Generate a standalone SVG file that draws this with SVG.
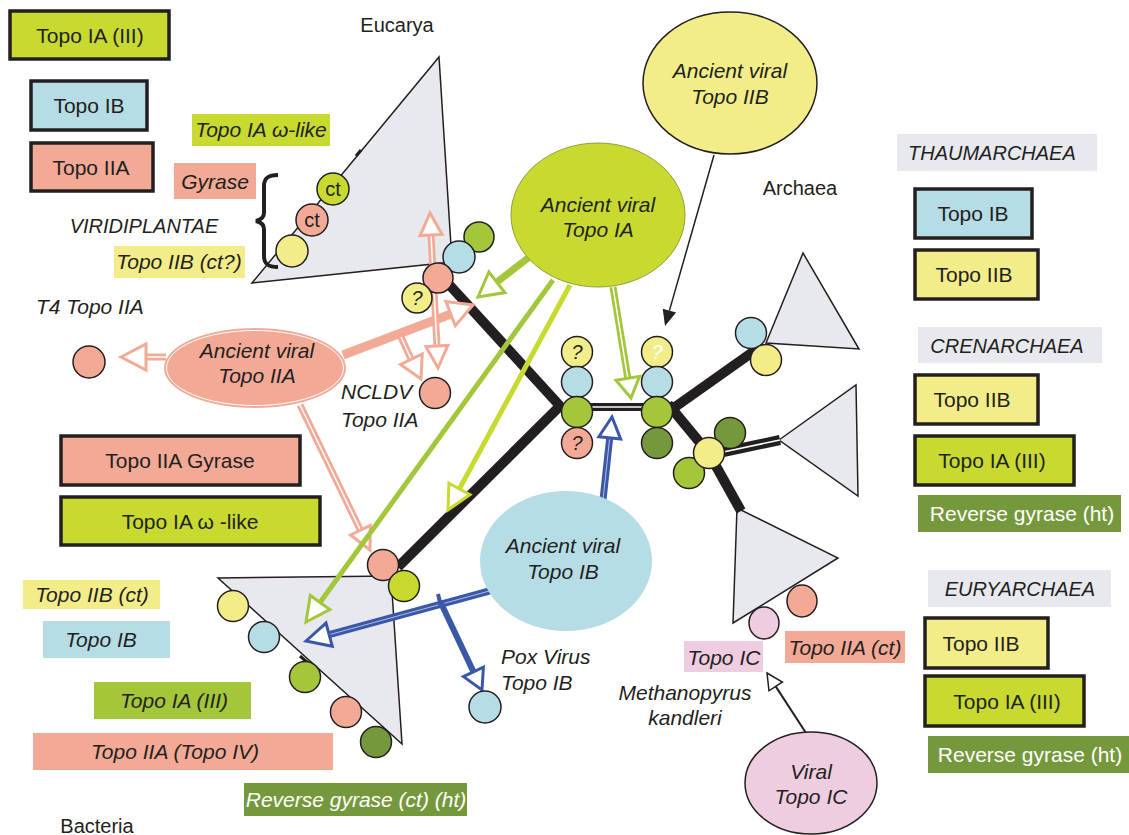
<svg xmlns="http://www.w3.org/2000/svg" width="1129" height="835" viewBox="0 0 1129 835">
<style>
.t{font-family:"Liberation Sans",Arial,sans-serif;font-size:21px;fill:#231f20}
.s20{font-size:20px}
.i{font-style:italic}
.c{text-anchor:middle}
.w{fill:#ffffff}
.box{stroke:#231f20;stroke-width:3.5}
.nd{stroke:#231f20;stroke-width:1.5}
.tri{fill:#e8e9ee;stroke:#231f20;stroke-width:1.5}
.lime{fill:#c8da2f}.grn{fill:#a3c63b}.dgr{fill:#76983c}.blu{fill:#b6dde6}.sal{fill:#f2aa96}.yel{fill:#f3ed89}.pnk{fill:#efcde0}.gry{fill:#e8e9ee}
.br{stroke:#231f20;stroke-width:10;fill:none;stroke-linecap:butt}
.dbl{stroke:#231f20;stroke-width:8;fill:none}
.wl{stroke:#ffffff;stroke-width:1.5;fill:none}
.wt{stroke:#ffffff;stroke-width:1;stroke-opacity:0.6;fill:none}
.hs{fill:#ffffff;stroke-width:3;stroke-linejoin:miter}
</style>

<!-- Triangles (clades) -->
<g id="eucarya-clade">
  <polygon class="tri" points="252,283 439,57 452,262"/>
  <line x1="356" y1="156" x2="361" y2="150" stroke="#231f20" stroke-width="3"/>
</g>
<g id="bacteria-clade">
  <polygon class="tri" points="218,578 391,576 402,744"/>
  <line x1="300" y1="656" x2="308" y2="663" stroke="#231f20" stroke-width="3"/>
</g>
<g id="thaumarchaea-clade"><polygon class="tri" points="766,343 803,253 859,349"/></g>
<g id="crenarchaea-clade"><polygon class="tri" points="779,440 856,385 858,496"/></g>
<g id="euryarchaea-clade"><polygon class="tri" points="737,508 838,558 733,623"/></g>

<!-- Connectors -->
<g id="connectors">
  <!-- tree -->
  <line class="br" x1="444" y1="279" x2="560" y2="406"/>
  <line class="br" x1="563" y1="403" x2="398" y2="567"/>
  <line class="dbl" x1="575" y1="407" x2="660" y2="407"/>
  <line class="wl" x1="575" y1="407" x2="660" y2="407"/>
  <line class="br" x1="668" y1="412" x2="757" y2="349"/>
  <line class="br" x1="668" y1="404" x2="711" y2="456"/>
  <line class="br" x1="707" y1="450" x2="741" y2="511"/>
  <line class="br" x1="709" y1="455" x2="780" y2="440"/>
  <line class="wl" x1="709" y1="455" x2="780" y2="440"/>

  <!-- salmon arrows from Ancient viral Topo IIA -->
  <line x1="166" y1="357" x2="146" y2="357" stroke="#f2aa96" stroke-width="7"/>
  <line x1="166" y1="357" x2="146" y2="357" class="wl"/>
  <polygon class="hs" stroke="#f2aa96" points="121,357 146,344 146,370"/>

  <line x1="343" y1="355" x2="451" y2="314" stroke="#f2aa96" stroke-width="9"/>
  <polygon class="hs" stroke="#f2aa96" points="473,305 455.3,325.7 445.9,301.5"/>

  <line x1="401" y1="337" x2="411" y2="359" stroke="#f2aa96" stroke-width="7"/>
  <line x1="401" y1="337" x2="411" y2="359" class="wl"/>
  <polygon class="hs" stroke="#f2aa96" points="421,379 422.2,353.9 400.6,364.5"/>

  <line x1="431" y1="235" x2="437" y2="346" stroke="#f2aa96" stroke-width="7"/>
  <line x1="431" y1="235" x2="437" y2="346" class="wl"/>
  <polygon class="hs" stroke="#f2aa96" points="430,213 442.1,234.4 420.1,235.6"/>
  <polygon class="hs" stroke="#f2aa96" points="438,368 447.9,345.4 425.9,346.6"/>

  <line x1="300" y1="405" x2="360.4" y2="530.2" stroke="#f2aa96" stroke-width="7"/>
  <line x1="300" y1="405" x2="360.4" y2="530.2" class="wl"/>
  <polygon class="hs" stroke="#f2aa96" points="370,550 370.3,525.4 350.5,535"/>

  <!-- green arrows from Ancient viral Topo IA -->
  <line x1="532" y1="255" x2="497" y2="282" stroke="#a3c63b" stroke-width="7"/>
  <polygon class="hs" stroke="#a3c63b" points="478,297 504.9,292.6 488.9,272"/>

  <line x1="553" y1="280" x2="320" y2="602.5" stroke="#a3c63b" stroke-width="5"/>
  <polygon class="hs" stroke="#a3c63b" points="306,622 329.8,609.6 310.3,595.5"/>

  <line x1="570" y1="285" x2="459.4" y2="488.9" stroke="#c8da2f" stroke-width="5"/>
  <polygon class="hs" stroke="#c8da2f" points="448,510 470,494.6 448.9,483.2"/>

  <line x1="613" y1="287" x2="627.8" y2="378.3" stroke="#a3c63b" stroke-width="7"/>
  <line x1="613" y1="287" x2="627.8" y2="378.3" class="wl"/>
  <polygon class="hs" stroke="#a3c63b" points="631,398 639.6,376.3 616,380.2"/>

  <!-- black arrow from Ancient viral Topo IIB -->
  <line x1="714" y1="155" x2="669.4" y2="310.6" stroke="#231f20" stroke-width="1.5"/>
  <polygon fill="#231f20" points="665,326 676.1,312.5 662.7,308.7"/>

  <!-- blue arrows from Ancient viral Topo IB -->
  <line x1="603" y1="500" x2="609.7" y2="437.9" stroke="#3b58a8" stroke-width="7"/>
  <line x1="603" y1="500" x2="609.7" y2="437.9" class="wt"/>
  <polygon class="hs" stroke="#3b58a8" points="612,417 620.7,439.1 598.8,436.7"/>

  <line x1="493" y1="590" x2="329.2" y2="634.7" stroke="#3b58a8" stroke-width="7"/>
  <line x1="493" y1="590" x2="329.2" y2="634.7" class="wt"/>
  <polygon class="hs" stroke="#3b58a8" points="306,641 332.3,646.3 326,623.1"/>

  <line x1="440" y1="601" x2="473.5" y2="671.9" stroke="#3b58a8" stroke-width="6"/>
  <line x1="438" y1="594" x2="441" y2="606" stroke="#3b58a8" stroke-width="4"/>
  <polygon class="hs" stroke="#3b58a8" points="482,690 483.4,667.2 463.5,676.6"/>

  <!-- arrow from Viral Topo IC -->
  <line x1="806" y1="733" x2="775.7" y2="686.4" stroke="#231f20" stroke-width="2"/>
  <polygon fill="#ffffff" stroke="#231f20" stroke-width="1.5" points="767,673 782.4,682 769,690.8"/>
</g>

<!-- Ancient viral ellipses -->
<g id="viral-topo-iia">
  <ellipse cx="255" cy="368" rx="91" ry="40" class="sal"/>
  <ellipse cx="255" cy="368" rx="88.5" ry="37.5" fill="none" stroke="#ffffff" stroke-width="1"/>
  <text class="t i c" x="257" y="358">Ancient viral</text>
  <text class="t i c" x="257" y="383">Topo IIA</text>
</g>
<g id="viral-topo-ia">
  <ellipse cx="598" cy="215" rx="87" ry="72" class="lime" stroke="#8fa036" stroke-width="1"/>
  <text class="t i c" x="598" y="212">Ancient viral</text>
  <text class="t i c" x="598" y="237">Topo IA</text>
</g>
<g id="viral-topo-iib">
  <ellipse cx="730" cy="83" rx="87" ry="71" class="yel nd"/>
  <text class="t i c" x="730" y="78">Ancient viral</text>
  <text class="t i c" x="730" y="104">Topo IIB</text>
</g>
<g id="viral-topo-ib">
  <ellipse cx="566" cy="561" rx="86" ry="70" class="blu"/>
  <text class="t i c" x="563" y="553">Ancient viral</text>
  <text class="t i c" x="563" y="579">Topo IB</text>
</g>
<g id="viral-topo-ic">
  <ellipse cx="811" cy="783" rx="66" ry="51" class="pnk nd"/>
  <text class="t i c" x="811" y="779">Viral</text>
  <text class="t i c" x="811" y="804">Topo IC</text>
</g>

<!-- Node circles -->
<g id="eucarya-edge-circles">
  <circle cx="292" cy="251" r="16" class="yel nd"/>
  <circle cx="312" cy="220" r="16" class="sal nd"/>
  <circle cx="333" cy="189" r="16" class="lime nd"/>
  <text class="t s20 c" x="312" y="227">ct</text>
  <text class="t s20 c" x="333" y="196">ct</text>
</g>
<g id="eucarya-node">
  <circle cx="479" cy="237" r="15" class="grn nd"/>
  <circle cx="459" cy="257" r="16" class="blu nd"/>
  <circle cx="438" cy="278" r="15" class="sal nd"/>
  <circle cx="417" cy="298" r="15" class="yel nd"/>
  <text class="t i c s20" x="417" y="305">?</text>
</g>
<g id="left-root-node">
  <circle cx="577" cy="352" r="15.5" class="yel nd"/>
  <circle cx="577" cy="382" r="15.5" class="blu nd"/>
  <circle cx="577" cy="412" r="15.5" class="grn nd"/>
  <circle cx="577" cy="443" r="15.5" class="sal nd"/>
  <text class="t i c s20" x="577" y="359">?</text>
  <text class="t i c s20" x="577" y="450">?</text>
</g>
<g id="right-root-node">
  <circle cx="657" cy="352" r="15.5" class="yel nd"/>
  <circle cx="657" cy="382" r="15.5" class="blu nd"/>
  <circle cx="657" cy="412" r="15.5" class="grn nd"/>
  <circle cx="657" cy="443" r="15.5" class="dgr nd"/>
  <text class="t i c s20 w" x="657" y="359">?</text>
</g>
<g id="thaum-node">
  <circle cx="751" cy="333" r="15.5" class="blu nd"/>
  <circle cx="766" cy="360" r="15.5" class="yel nd"/>
</g>
<g id="cren-node">
  <circle cx="730" cy="433" r="15.5" class="dgr nd"/>
  <circle cx="689" cy="473" r="15.5" class="grn nd"/>
  <circle cx="709" cy="453" r="15.5" class="yel nd"/>
</g>
<g id="eury-node">
  <ellipse cx="764" cy="623" rx="15" ry="16" class="pnk nd"/>
  <ellipse cx="802" cy="601" rx="15" ry="16" class="sal nd"/>
</g>
<g id="bacteria-node">
  <circle cx="383" cy="565" r="15.5" class="sal nd"/>
  <circle cx="404" cy="586" r="15.5" class="lime nd"/>
</g>
<g id="bacteria-edge-circles">
  <circle cx="233" cy="606" r="15.5" class="yel nd"/>
  <circle cx="264" cy="637" r="15.5" class="blu nd"/>
  <circle cx="305" cy="677" r="15.5" class="grn nd"/>
  <circle cx="346" cy="712" r="15.5" class="sal nd"/>
  <circle cx="376" cy="742" r="15.5" class="dgr nd"/>
</g>
<g id="t4-topo-iia">
  <circle cx="89" cy="362" r="16" class="sal nd"/>
  <text class="t i" x="36" y="314">T4 Topo IIA</text>
</g>
<g id="ncldv-topo-iia">
  <circle cx="435" cy="393" r="15.5" class="sal nd"/>
  <text class="t i" x="341" y="399">NCLDV</text>
  <text class="t i" x="341" y="427">Topo IIA</text>
</g>
<g id="pox-topo-ib">
  <circle cx="485" cy="707" r="16" class="blu nd"/>
  <text class="t i" x="501" y="664">Pox Virus</text>
  <text class="t i" x="501" y="690">Topo IB</text>
</g>

<!-- Domain names -->
<g id="domain-labels">
  <text class="t s20 c" x="397" y="32">Eucarya</text>
  <text class="t s20 c" x="800" y="195">Archaea</text>
  <text class="t s20 c" x="97" y="833">Bacteria</text>
</g>

<!-- Eucarya annotations -->
<g id="eucarya-labels">
  <rect x="10" y="11" width="159" height="48" class="lime box"/>
  <text class="t c" x="90" y="43">Topo IA (III)</text>
  <rect x="31" y="81" width="116" height="49" class="blu box"/>
  <text class="t c" x="89" y="113">Topo IB</text>
  <rect x="31" y="143" width="122" height="48" class="sal box"/>
  <text class="t c" x="91" y="175">Topo IIA</text>
  <rect x="192" y="114" width="138" height="32" class="lime"/>
  <text class="t i c" x="261" y="137">Topo IA ω-like</text>
  <rect x="174" y="163" width="82" height="36" class="sal"/>
  <text class="t i c" x="215" y="189">Gyrase</text>
  <text class="t i c s20" x="144" y="233">VIRIDIPLANTAE</text>
  <path d="M278,175 C268,175 264,178 264,186 L264,213 C264,218 260,220 256,221 C260,222 264,224 264,229 L264,256 C264,264 268,267 278,267" fill="none" stroke="#231f20" stroke-width="4"/>
  <rect x="114" y="246" width="131" height="32" class="yel"/>
  <text class="t i c" x="179" y="269">Topo IIB (ct?)</text>
</g>

<!-- Middle-left boxes -->
<g id="gyrase-boxes">
  <rect x="61" y="436" width="239" height="49" class="sal box"/>
  <text class="t c" x="180" y="468">Topo IIA Gyrase</text>
  <rect x="61" y="497" width="259" height="48" class="lime box"/>
  <text class="t c" x="190" y="529">Topo IA ω -like</text>
</g>

<!-- Bacteria annotations -->
<g id="bacteria-labels">
  <rect x="23" y="580" width="137" height="29" class="yel"/>
  <text class="t i c" x="92" y="602">Topo IIB (ct)</text>
  <rect x="43" y="621" width="127" height="37" class="blu"/>
  <text class="t i c" x="101" y="647">Topo IB</text>
  <rect x="94" y="682" width="157" height="37" class="grn"/>
  <text class="t i c" x="174" y="708">Topo IA (III)</text>
  <rect x="33" y="733" width="300" height="37" class="sal"/>
  <text class="t i c" x="175" y="759">Topo IIA (Topo IV)</text>
  <rect x="244" y="783" width="223" height="33" class="dgr"/>
  <text class="t i c w" x="356" y="807">Reverse gyrase (ct) (ht)</text>
</g>

<!-- Methanopyrus -->
<g id="methanopyrus-labels">
  <rect x="684" y="641" width="79" height="31" class="pnk"/>
  <text class="t i c" x="724" y="665">Topo IC</text>
  <rect x="785" y="631" width="120" height="32" class="sal"/>
  <text class="t i c" x="845" y="655">Topo IIA (ct)</text>
  <text class="t i c" x="685" y="700">Methanopyrus</text>
  <text class="t i c" x="685" y="725">kandleri</text>
</g>

<!-- Archaea panel -->
<g id="thaumarchaea-panel">
  <rect x="897" y="134" width="200" height="37" class="gry"/>
  <text class="t i s20" x="908" y="160">THAUMARCHAEA</text>
  <rect x="915" y="189" width="117" height="49" class="blu box"/>
  <text class="t c" x="973" y="221">Topo IB</text>
  <rect x="915" y="250" width="123" height="49" class="yel box"/>
  <text class="t c" x="974" y="282">Topo IIB</text>
</g>
<g id="crenarchaea-panel">
  <rect x="918" y="327" width="184" height="36" class="gry"/>
  <text class="t i c s20" x="1007" y="353">CRENARCHAEA</text>
  <rect x="915" y="375" width="123" height="49" class="yel box"/>
  <text class="t c" x="972" y="407">Topo IIB</text>
  <rect x="915" y="436" width="159" height="49" class="lime box"/>
  <text class="t c" x="992" y="468">Topo IA (III)</text>
  <rect x="918" y="495" width="203" height="37" class="dgr"/>
  <text class="t c w" x="1022" y="521">Reverse gyrase (ht)</text>
</g>
<g id="euryarchaea-panel">
  <rect x="928" y="570" width="183" height="37" class="gry"/>
  <text class="t i c s20" x="1020" y="596">EURYARCHAEA</text>
  <rect x="925" y="618" width="123" height="50" class="yel box"/>
  <text class="t c" x="981" y="651">Topo IIB</text>
  <rect x="925" y="676" width="159" height="50" class="lime box"/>
  <text class="t c" x="1007" y="709">Topo IA (III)</text>
  <rect x="928" y="736" width="201" height="37" class="dgr"/>
  <text class="t c w" x="1030" y="762">Reverse gyrase (ht)</text>
</g>
</svg>
